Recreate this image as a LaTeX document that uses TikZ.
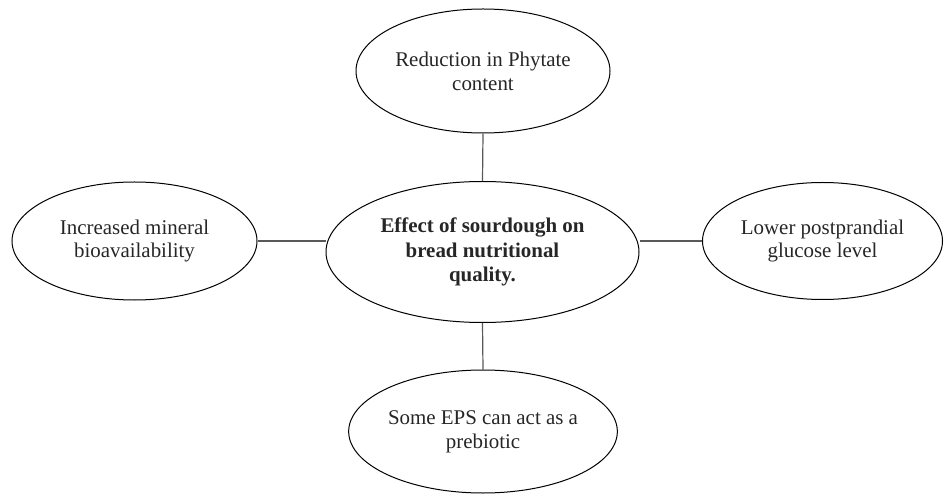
\documentclass[tikz,border=0pt]{standalone}
\usepackage{fontspec}
\setmainfont{Liberation Serif}
\usetikzlibrary{shapes.geometric}
\begin{document}
\begin{tikzpicture}[x=1bp,y=-1bp,
  bubble/.style={draw=black, line width=1bp, ellipse, inner sep=0pt, align=center,
    font=\fontsize{21}{24}\selectfont, text=black!85},
  link/.style={draw=black!65, line width=1.2bp}]
\useasboundingbox (0,0) rectangle (944,494);
\node[bubble, minimum width=313bp, minimum height=141bp, font=\fontsize{21}{24.5}\selectfont\bfseries]
  (center) at (482.5,252) {Effect of sourdough on\\bread nutritional\\quality.};
\node[bubble, minimum width=254bp, minimum height=124bp] (top) at (483,71) {Reduction in Phytate\\content};
\node[bubble, minimum width=245bp, minimum height=118bp] (left) at (134.5,241) {Increased mineral\\bioavailability};
\node[bubble, minimum width=240bp, minimum height=117bp] (right) at (822.5,241) {Lower postprandial\\glucose level};
\node[bubble, minimum width=256bp, minimum height=123bp] (bottom) at (483,431.5) {Some EPS can act as a\\prebiotic};
\draw[link] (top.south) -- (center.north);
\draw[link] (center.south) -- (bottom.north);
\draw[link] (left.east) -- (left.east -| center.west);
\draw[link] (right.west) -- (right.west -| center.east);
\end{tikzpicture}
\end{document}
